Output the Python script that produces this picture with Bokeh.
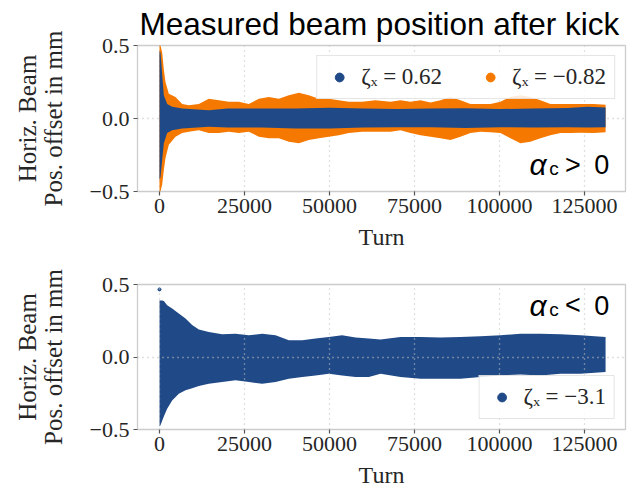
from bokeh.plotting import figure
from bokeh.models import Range1d, FixedTicker, Legend, LegendItem, Label
from bokeh.layouts import column
from bokeh.embed import file_html
from bokeh.resources import INLINE

BLUE = "#204a87"
ORANGE = "#f57900"
SERIF = "Liberation Serif"
SANS = "Liberation Sans"

# ---------------- data ----------------
x_ticks = [0, 25000, 50000, 75000, 100000, 125000]
x_tick_labels = ["0", "25000", "50000", "75000", "100000", "125000"]
y_ticks = [-0.5, 0.0, 0.5]
y_tick_labels = ["−0.5", "0.0", "0.5"]

# top panel (alpha_c > 0), zeta_x = -0.82 : envelope of measured positions
top_orange_turn = [0, 300, 800, 1300, 1765, 2745, 4700, 6670, 8630, 11570, 14500,
                   17450, 20400, 23330, 26280, 29230, 32160, 35100, 38040, 41000,
                   43920, 46860, 49800, 52740, 55680, 59600, 63530, 67940, 70880,
                   73820, 76760, 79700, 82640, 85580, 88520, 91460, 94400, 97340,
                   100280, 103220, 106160, 109100, 112040, 114980, 117920, 120860,
                   123800, 127700, 131200]
top_orange_upper = [0.50, 0.50, 0.45, 0.33, 0.25, 0.17, 0.148, 0.10, 0.09, 0.10, 0.136,
                    0.125, 0.114, 0.114, 0.10, 0.136, 0.148, 0.136, 0.16, 0.177,
                    0.16, 0.136, 0.136, 0.125, 0.114, 0.114, 0.125, 0.114, 0.125,
                    0.114, 0.125, 0.11, 0.125, 0.148, 0.125, 0.10, 0.10, 0.10,
                    0.114, 0.148, 0.16, 0.148, 0.125, 0.10, 0.10, 0.10,
                    0.10, 0.10, 0.095]
top_orange_lower = [-0.50, -0.50, -0.45, -0.35, -0.27, -0.18, -0.125, -0.10, -0.09, -0.08, -0.10,
                    -0.10, -0.09, -0.10, -0.09, -0.125, -0.136, -0.136, -0.16, -0.17,
                    -0.148, -0.136, -0.125, -0.114, -0.10, -0.09, -0.09, -0.09, -0.08,
                    -0.10, -0.114, -0.125, -0.136, -0.148, -0.125, -0.10, -0.09, -0.095,
                    -0.10, -0.136, -0.17, -0.16, -0.136, -0.114, -0.10, -0.10,
                    -0.098, -0.10, -0.095]

# top panel, zeta_x = 0.62
top_blue_turn = [0, 300, 800, 1275, 2255, 3720, 6670, 14500, 20000, 30000, 40000,
                 50000, 60000, 70000, 80000, 90000, 100000, 110000, 120000, 126000, 131200]
top_blue_upper = [0.46, 0.45, 0.30, 0.16, 0.10, 0.08, 0.068, 0.057, 0.068, 0.068, 0.068,
                  0.073, 0.068, 0.065, 0.068, 0.070, 0.065, 0.068, 0.072, 0.08, 0.075]
top_blue_lower = [-0.42, -0.40, -0.28, -0.17, -0.10, -0.08, -0.068, -0.057, -0.062, -0.062, -0.068,
                  -0.068, -0.062, -0.060, -0.060, -0.065, -0.060, -0.062, -0.060, -0.062, -0.060]

# bottom panel (alpha_c < 0), zeta_x = -3.1
bot_turn = [0, 294, 784, 1275, 2255, 3720, 5680, 7650, 9600, 11570, 14500, 18430,
            22350, 26280, 30200, 34120, 38040, 42000, 45900, 49800, 53700, 57650,
            61570, 65000, 70880, 76760, 82640, 88520, 94400, 100280, 106160, 112040,
            117920, 123800, 131200]
bot_upper = [0.39, 0.39, 0.39, 0.387, 0.357, 0.334, 0.30, 0.265, 0.22, 0.19, 0.173, 0.157,
             0.16, 0.15, 0.16, 0.15, 0.115, 0.115, 0.127, 0.138, 0.15, 0.134,
             0.127, 0.12, 0.138, 0.138, 0.134, 0.138, 0.143, 0.15, 0.16, 0.16,
             0.157, 0.15, 0.138]
bot_lower = [-0.48, -0.47, -0.44, -0.41, -0.357, -0.30, -0.254, -0.23, -0.215, -0.20, -0.184, -0.173,
             -0.16, -0.173, -0.184, -0.173, -0.15, -0.138, -0.127, -0.115, -0.127, -0.138,
             -0.138, -0.115, -0.138, -0.15, -0.15, -0.15, -0.138, -0.127, -0.12, -0.127,
             -0.115, -0.115, -0.104]
bot_outlier_turn = [0]
bot_outlier_pos = [0.466]

legend_top = ["ζₓ = 0.62", "ζₓ = −0.82"]
legend_bottom = ["ζₓ = −3.1"]
title_text = "Measured beam position after kick"
y_label = "Horiz. Beam\nPos. offset in mm"
x_label = "Turn"


def make_fig(border_top, border_bottom, frame_h, grid_level):
    p = figure(frame_width=488, frame_height=frame_h,
               x_range=Range1d(-6470, 137060), y_range=Range1d(-0.5, 0.5),
               output_backend="svg", toolbar_location=None,
               min_border_left=137, min_border_right=9,
               min_border_top=border_top, min_border_bottom=border_bottom)
    p.background_fill_color = "white"
    p.border_fill_color = "white"
    p.outline_line_color = "#cccccc"
    p.outline_line_width = 1.3
    p.xaxis.ticker = FixedTicker(ticks=x_ticks)
    p.yaxis.ticker = FixedTicker(ticks=y_ticks)
    p.xaxis.major_label_overrides = {t: l for t, l in zip(x_ticks, x_tick_labels)}
    p.yaxis.major_label_overrides = {t: l for t, l in zip(y_ticks, y_tick_labels)}
    for ax in (p.xaxis, p.yaxis):
        ax.axis_line_color = None
        ax.minor_tick_line_color = None
        ax.major_tick_in = 0
        ax.major_tick_out = 4
        ax.major_tick_line_color = "#555555"
        ax.major_tick_line_width = 1.2
        ax.major_label_text_font = SERIF
        ax.major_label_text_font_size = "22px"
        ax.major_label_text_color = "#262626"
        ax.axis_label_text_font = SERIF
        ax.axis_label_text_font_style = "normal"
        ax.axis_label_text_color = "#262626"
    p.xaxis.axis_label_text_font_size = "24px"
    p.yaxis.axis_label_text_font_size = "25px"
    p.yaxis.axis_label_text_line_height = 0.95
    p.xaxis.major_label_standoff = 3
    p.yaxis.major_label_standoff = 4
    p.xaxis.axis_label = x_label
    p.xaxis.axis_label_standoff = 8
    p.yaxis.axis_label = y_label
    p.yaxis.axis_label_standoff = 20
    p.xgrid.ticker = FixedTicker(ticks=x_ticks)
    p.ygrid.ticker = FixedTicker(ticks=[0])
    for g in (p.xgrid, p.ygrid):
        g.grid_line_color = "#c0c0c0"
        g.grid_line_dash = "1 4"
        g.grid_line_width = 1.3
        g.level = grid_level
    return p


def add_alpha(p, y_base, y_sub, rel):
    p.add_layout(Label(x=108800, y=y_base, text="α", text_font=SANS,
                       text_font_style="italic", text_font_size="30px",
                       text_baseline="alphabetic", text_color="black"))
    p.add_layout(Label(x=114600, y=y_sub, text="c", text_font=SANS,
                       text_font_size="19px", text_baseline="alphabetic", text_color="black"))
    p.add_layout(Label(x=119300, y=y_base, text=rel, text_font=SANS,
                       text_font_size="27px", text_baseline="alphabetic", text_color="black"))
    p.add_layout(Label(x=127900, y=y_base, text="0", text_font=SANS,
                       text_font_size="27px", text_baseline="alphabetic", text_color="black"))


def style_legend(leg):
    leg.label_text_font = SERIF
    leg.label_text_font_size = "23px"
    leg.label_text_color = "#262626"
    leg.border_line_color = "#cccccc"
    leg.border_line_width = 1.2
    leg.background_fill_alpha = 0.85
    leg.padding = 8
    leg.margin = 10
    leg.glyph_width = 28
    leg.glyph_height = 22
    leg.label_standoff = 8
    leg.spacing = 34
    leg.inactive_fill_alpha = 0.0


# ---------------- top panel ----------------
p1 = make_fig(43, 40, 146, "underlay")
p1.title.text = title_text
p1.title.text_font = SANS
p1.title.text_font_size = "31.5px"
p1.title.text_font_style = "normal"
p1.title.text_color = "black"
p1.title.align = "left"
p1.title.offset = 2
p1.title.standoff = 7

p1.varea(x=top_orange_turn, y1=top_orange_lower, y2=top_orange_upper, fill_color=ORANGE)
p1.varea(x=top_blue_turn, y1=top_blue_lower, y2=top_blue_upper, fill_color=BLUE)
# legend markers (hidden in the plot area, shown in the legend)
lb1 = p1.scatter(x=top_blue_turn, y=top_blue_upper, size=10, fill_color=BLUE,
                 line_color=BLUE, visible=False)
lb2 = p1.scatter(x=top_orange_turn, y=top_orange_upper, size=10, fill_color=ORANGE,
                 line_color=ORANGE, visible=False)
leg1 = Legend(items=[LegendItem(label=legend_top[0], renderers=[lb1]),
                     LegendItem(label=legend_top[1], renderers=[lb2])],
              orientation="horizontal", location="top_right")
style_legend(leg1)
p1.add_layout(leg1)
add_alpha(p1, -0.316, -0.345, ">")

# ---------------- bottom panel ----------------
p2 = make_fig(32, 40, 145, "guide")
p2.varea(x=bot_turn, y1=bot_lower, y2=bot_upper, fill_color=BLUE)
p2.scatter(x=bot_outlier_turn, y=bot_outlier_pos, size=3, fill_color=BLUE, line_color=BLUE)
lb3 = p2.scatter(x=bot_turn, y=bot_upper, size=10, fill_color=BLUE, line_color=BLUE,
                 visible=False)
leg2 = Legend(items=[LegendItem(label=legend_bottom[0], renderers=[lb3])],
              location="bottom_right")
style_legend(leg2)
p2.add_layout(leg2)
add_alpha(p2, 0.357, 0.328, "<")

layout = column(p1, p2, spacing=0)
open("out.html", "w").write(file_html(layout, INLINE))
